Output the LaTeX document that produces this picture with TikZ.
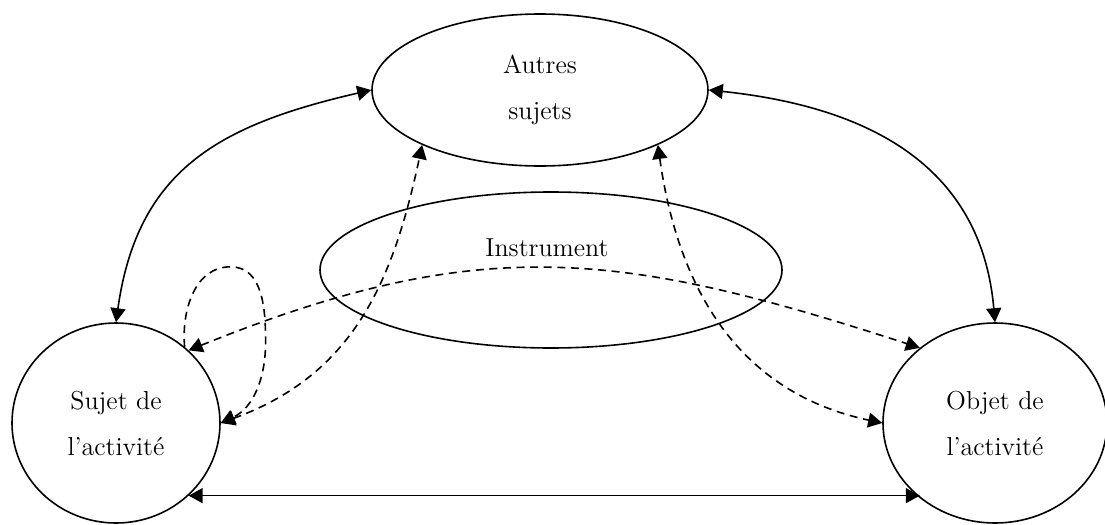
\documentclass[tikz,border=0pt]{standalone}
\usepackage{tikz}
\usetikzlibrary{arrows.meta,shapes.geometric,calc}
\tikzstyle{pole}=[ellipse,draw=black,line width=0.8pt,inner sep=0pt,align=center,
  font=\fontsize{13}{23}\selectfont]
\tikzstyle{word}=[inner sep=0pt,font=\fontsize{13}{23}\selectfont]
\tikzstyle{link}=[draw=black,line width=0.8pt]
\tikzstyle{dlink}=[draw=black,line width=0.8pt,dash pattern=on 4pt off 2.8pt]

\begin{document}
\begin{tikzpicture}[x=0.5pt,y=0.5pt,>={Triangle[length=7pt,width=7.5pt]}]
        \useasboundingbox (0,0) rectangle (1105,-525);
        \node [style=pole,minimum width=104pt,minimum height=100pt] (0) at (116,-423) {Sujet de\\l'activité};
        \node [style=pole,minimum width=168pt,minimum height=76pt] (1) at (540,-90) {Autres\\sujets};
        \node [style=pole,minimum width=112pt,minimum height=100pt] (2) at (995,-423) {Objet de\\l'activité};
        \node [style=pole,minimum width=231pt,minimum height=78pt] (3) at (551,-270) {};
        \node [style=word] (4) at (547,-248) {Instrument};
        \draw [style=link,<->] (0.north) to[out=82,in=193,looseness=1.15] (1.west);
        \draw [style=link,<->] (1.east) to[out=-6,in=95,looseness=1.1] (2.north);
        \draw [style=link,<->] (0.-45) -- (0.-45 -| 2.-135);
        \draw [style=dlink,<->] (0.45) to[out=22,in=162,looseness=1.1] (2.135);
        \draw [style=dlink,<->] (0.east) to[out=20,in=-102,looseness=1.05] (1.205);
        \draw [style=dlink,<->] (1.-25) to[out=-82,in=168,looseness=1.05] (2.west);
        \draw [style=dlink,->] (0.48) to[out=95,in=180] ++(46,80) to[out=0,in=90] ++(35,-75) to[out=-90,in=25] (0.east);
    \end{tikzpicture}
\end{document}
